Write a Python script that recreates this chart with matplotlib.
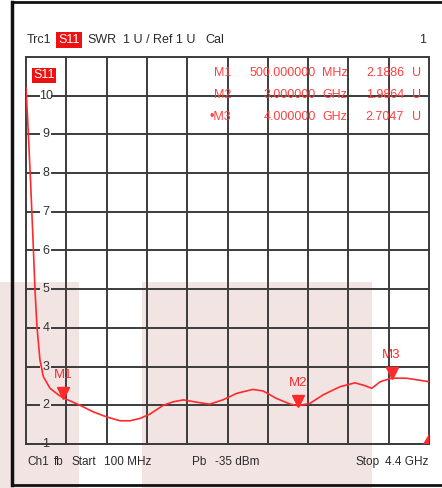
import matplotlib
matplotlib.use('Agg')
import matplotlib.pyplot as plt
import matplotlib.transforms as mtransforms
from matplotlib.patches import Rectangle, Polygon
import numpy as np

plt.rcParams['font.family'] = ['Liberation Sans', 'DejaVu Sans']

# SWR trace (frequency in GHz)
freq_ghz = [0.1, 0.118, 0.148, 0.175, 0.196, 0.217, 0.249, 0.285, 0.356, 0.445,
            0.5, 0.676, 0.818, 0.96, 1.103, 1.21, 1.316, 1.42, 1.565, 1.67,
            1.78, 1.92, 2.06, 2.2, 2.35, 2.52, 2.63, 2.77, 2.92, 3.0,
            3.13, 3.27, 3.45, 3.61, 3.70, 3.79, 3.88, 4.0, 4.16, 4.4]
swr = [10.2, 9.37, 7.82, 6.27, 4.98, 4.03, 3.17, 2.74, 2.44, 2.27,
       2.19, 2.0, 1.83, 1.70, 1.60, 1.60, 1.66, 1.77, 2.0, 2.09,
       2.14, 2.08, 2.03, 2.14, 2.31, 2.41, 2.37, 2.18, 2.03, 1.99,
       2.05, 2.27, 2.48, 2.58, 2.52, 2.44, 2.61, 2.70, 2.70, 2.61]

# markers
mk_names = ['M1', 'M2', 'M3']
mk_freq = [0.5, 3.0, 4.0]
mk_val = [2.1886, 1.9864, 2.7047]
mk_freq_txt = ['500.000000', '3.000000', '4.000000']
mk_unit = ['MHz', 'GHz', 'GHz']

y_ticks = [1, 2, 3, 4, 5, 6, 7, 8, 9, 10]
f_start, f_stop = 0.1, 4.4
y_min, y_max = 1, 11

W, H = 442, 488
fig = plt.figure(figsize=(W / 100, H / 100), dpi=100)
fig.patch.set_facecolor('white')

def fx(x):
    return x / W

def fy(y):
    return 1 - y / H

# pink blocks in the background
pink = '#f3e4e4'
for x0, x1 in [(0, 79), (142, 372)]:
    fig.patches.append(Rectangle((fx(x0), 0), fx(x1 - x0), fy(282), transform=fig.transFigure,
                                 facecolor=pink, edgecolor='none', zorder=-10))

# black outer frame
frame_kw = dict(transform=fig.transFigure, color='#111111', zorder=5)
fig.lines.append(plt.Line2D([fx(12), fx(12)], [fy(2), fy(485)], lw=2.5, **frame_kw))
fig.lines.append(plt.Line2D([fx(12), 1], [fy(2), fy(2)], lw=2, **frame_kw))
fig.lines.append(plt.Line2D([fx(12), 1], [fy(485), fy(485)], lw=2, **frame_kw))

ax = fig.add_axes([fx(26), fy(444), fx(429 - 26), fy(57) - fy(444)])
ax.set_facecolor('none')
ax.set_xlim(f_start, f_stop)
ax.set_ylim(y_min, y_max)
ax.set_xticks([])
ax.set_yticks([])
grid_c = '#3c3c3c'
for s in ax.spines.values():
    s.set_color(grid_c)
    s.set_linewidth(1.4)

# vertical grid
for xv in np.linspace(f_start, f_stop, 11)[1:-1]:
    ax.axvline(xv, color=grid_c, lw=1.4, zorder=1)

# horizontal grid with a gap for the value label
ytr = ax.get_yaxis_transform()
for yv in y_ticks:
    ax.plot([0, 0.033], [yv, yv], color=grid_c, lw=1.4, transform=ytr, clip_on=False, zorder=1)
    ax.plot([0.064, 1], [yv, yv], color=grid_c, lw=1.4, transform=ytr, clip_on=False, zorder=1)
    ax.text(0.049, yv, str(yv), transform=ytr, ha='center', va='center',
            fontsize=9, color='#333333', zorder=2)

# trace
red = '#ff2a2a'
ax.plot(freq_ghz, swr, color=red, lw=1.2, zorder=3, clip_on=True)

# marker triangles and names
tri_tr = mtransforms.offset_copy(ax.transData, fig=fig, x=0, y=5, units='dots')
for name, f, v in zip(mk_names, mk_freq, mk_val):
    ax.plot([f], [v], marker='v', ms=8, color=red, transform=tri_tr, zorder=4)
    ax.annotate(name, (f, v), xytext=(0, 23), textcoords='offset pixels',
                ha='center', va='center', fontsize=9.5, color=red, zorder=4)

# little red corner triangle bottom right
ax.add_patch(Polygon([(0.985, 0), (1, 0), (1, 0.025)], closed=True, transform=ax.transAxes,
                     facecolor=red, edgecolor='none', zorder=4, clip_on=False))

# S11 tag inside the grid
fig.text(fx(44), fy(75), 'S11', ha='center', va='center', fontsize=9, color='white',
         bbox=dict(boxstyle='square,pad=0.12', facecolor='#ee1111', edgecolor='none'), zorder=6)

# marker readout table
tbl_c = '#ff4040'
for i, (name, ftxt, unit, v) in enumerate(zip(mk_names, mk_freq_txt, mk_unit, mk_val)):
    yy = fy(73 + i * 22)
    label = ('\u2022' + name) if i == 2 else name
    fig.text(fx(231), yy, label, ha='right', va='center', fontsize=9, color=tbl_c, zorder=6)
    fig.text(fx(316), yy, ftxt, ha='right', va='center', fontsize=9, color=tbl_c, zorder=6)
    fig.text(fx(322), yy, unit, ha='left', va='center', fontsize=9, color=tbl_c, zorder=6)
    fig.text(fx(404), yy, f'{v:.4f}', ha='right', va='center', fontsize=9, color=tbl_c, zorder=6)
    fig.text(fx(412), yy, 'U', ha='left', va='center', fontsize=9, color=tbl_c, zorder=6)

# header line
hdr_y = fy(40)
txt_c = '#2a2a2a'
fig.text(fx(27), hdr_y, 'Trc1', ha='left', va='center', fontsize=9, color=txt_c)
fig.text(fx(69), hdr_y, 'S11', ha='center', va='center', fontsize=9, color='white',
         bbox=dict(boxstyle='square,pad=0.15', facecolor='#ee1111', edgecolor='none'))
fig.text(fx(87), hdr_y, 'SWR', ha='left', va='center', fontsize=9, color=txt_c)
fig.text(fx(123), hdr_y, '1 U /', ha='left', va='center', fontsize=9, color=txt_c)
fig.text(fx(153), hdr_y, 'Ref 1 U', ha='left', va='center', fontsize=9, color=txt_c)
fig.text(fx(205), hdr_y, 'Cal', ha='left', va='center', fontsize=9, color=txt_c)
fig.text(fx(426), hdr_y, '1', ha='right', va='center', fontsize=9, color=txt_c)

# footer line
ft_y = fy(462)
for x, s in [(27, 'Ch1'), (54, 'fb'), (72, 'Start'), (104, '100 MHz'),
             (192, 'Pb'), (215, '-35 dBm'), (355, 'Stop'), (385, '4.4 GHz')]:
    fig.text(fx(x), ft_y, s, ha='left', va='center', fontsize=8.5, color=txt_c)

fig.savefig('out.png', dpi=100)
